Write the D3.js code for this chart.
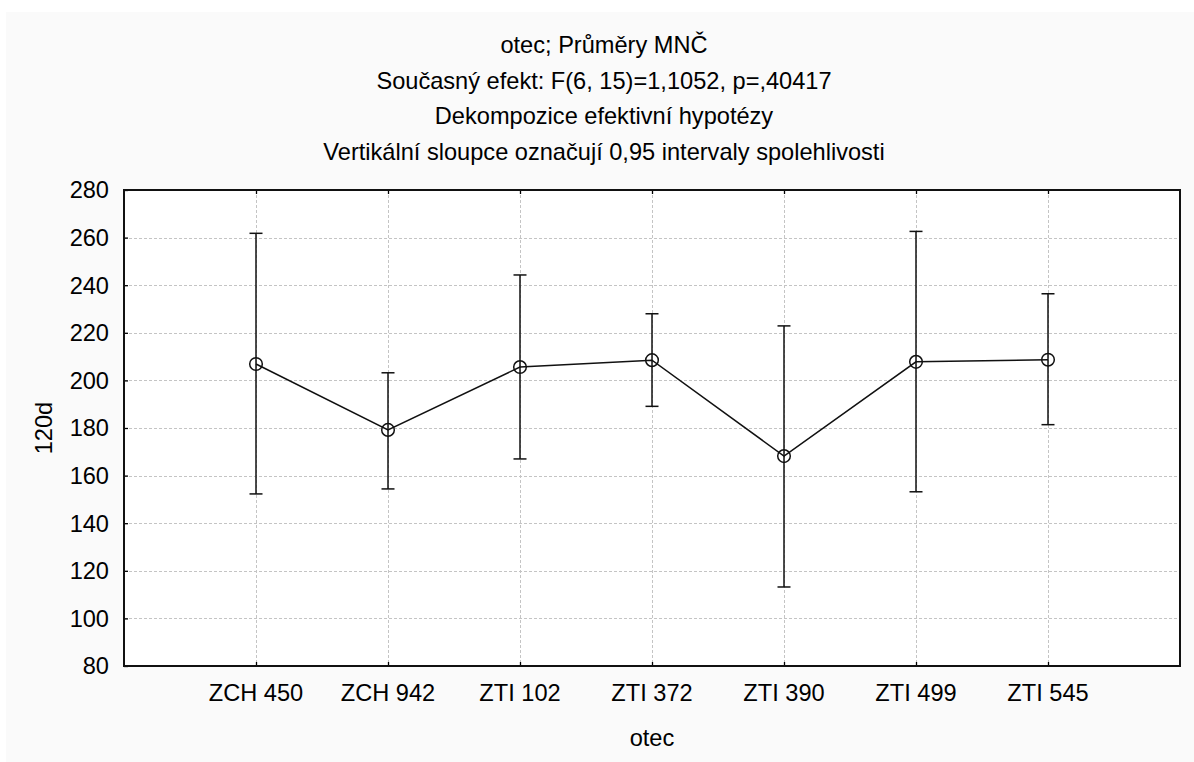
<!DOCTYPE html>
<html>
<head>
<meta charset="utf-8">
<script src="https://cdn.jsdelivr.net/npm/d3@7"></script>
<style>
  html, body { margin: 0; padding: 0; background: #ffffff; }
  svg { display: block; }
  text { font-family: "Liberation Sans", Arial, sans-serif; fill: #000; }
</style>
</head>
<body>
<svg id="chart" width="1194" height="762"></svg>
<script>
// Least-squares means of 120d by sire, with 0.95 confidence intervals
const categories = ["ZCH 450", "ZCH 942", "ZTI 102", "ZTI 372", "ZTI 390", "ZTI 499", "ZTI 545"];
const means = [206.9, 179.2, 205.6, 208.5, 168.2, 207.8, 208.7];
const upper = [261.8, 203.2, 244.3, 228.0, 222.9, 262.6, 236.4];
const lower = [152.3, 154.4, 167.0, 189.1, 113.2, 153.2, 181.4];
const yTicks = [80, 100, 120, 140, 160, 180, 200, 220, 240, 260, 280];
const titleLines = [
  "otec; Průměry MNČ",
  "Současný efekt: F(6, 15)=1,1052, p=,40417",
  "Dekompozice efektivní hypotézy",
  "Vertikální sloupce označují 0,95 intervaly spolehlivosti"
];
const xTitle = "otec";
const yTitle = "120d";

const svg = d3.select("#chart");
const W = 1194, H = 762;
const plot = { left: 124, right: 1180, top: 190, bottom: 666 };
const fontSize = 23.6;

// panel background
svg.append("rect").attr("x", 6).attr("y", 12).attr("width", W - 6).attr("height", H - 12)
  .attr("fill", "#fafafa");
svg.append("rect").attr("x", plot.left).attr("y", plot.top)
  .attr("width", plot.right - plot.left).attr("height", plot.bottom - plot.top)
  .attr("fill", "#ffffff");

const x = d3.scalePoint().domain(categories).range([plot.left, plot.right]).padding(1);
const y = d3.scaleLinear().domain([80, 280]).range([plot.bottom, plot.top]);

// dashed grid
const grid = svg.append("g").attr("stroke", "#c4c4c4").attr("stroke-width", 1)
  .attr("stroke-dasharray", "3,2").attr("fill", "none");
grid.selectAll("line.h").data(yTicks.filter(t => t > 80 && t < 280)).join("line")
  .attr("class", "h")
  .attr("x1", plot.left).attr("x2", plot.right)
  .attr("y1", d => Math.round(y(d)) + 0.5).attr("y2", d => Math.round(y(d)) + 0.5);
grid.selectAll("line.v").data(categories).join("line")
  .attr("class", "v")
  .attr("x1", d => Math.round(x(d)) + 0.5).attr("x2", d => Math.round(x(d)) + 0.5)
  .attr("y1", plot.top).attr("y2", plot.bottom);

// axes: ticks pointing inward, labels outside
const yAxis = svg.append("g").attr("transform", `translate(${plot.left},0)`)
  .call(d3.axisRight(y).tickValues(yTicks).tickSize(4).tickFormat(""));
yAxis.select(".domain").remove();
yAxis.selectAll("line").attr("stroke", "#000").attr("stroke-width", 1.3);

svg.append("g").selectAll("text").data(yTicks).join("text")
  .attr("x", 109).attr("y", d => y(d)).attr("dy", "0.36em")
  .attr("text-anchor", "end").attr("font-size", fontSize).text(d => d);

const xAxisB = svg.append("g").attr("transform", `translate(0,${plot.bottom})`)
  .call(d3.axisTop(x).tickSize(4).tickFormat(""));
xAxisB.select(".domain").remove();
xAxisB.selectAll("line").attr("stroke", "#000").attr("stroke-width", 1.3);

const xAxisT = svg.append("g").attr("transform", `translate(0,${plot.top})`)
  .call(d3.axisBottom(x).tickSize(4).tickFormat(""));
xAxisT.select(".domain").remove();
xAxisT.selectAll("line").attr("stroke", "#000").attr("stroke-width", 1.3);

svg.append("g").selectAll("text").data(categories).join("text")
  .attr("x", d => x(d)).attr("y", 701)
  .attr("text-anchor", "middle").attr("font-size", fontSize).text(d => d);

// frame
svg.append("rect").attr("x", plot.left).attr("y", plot.top)
  .attr("width", plot.right - plot.left).attr("height", plot.bottom - plot.top)
  .attr("fill", "none").attr("stroke", "#111").attr("stroke-width", 2);

// error bars
const eb = svg.append("g").attr("stroke", "#111").attr("stroke-width", 1.5).attr("fill", "none");
categories.forEach((c, i) => {
  const cx = x(c);
  eb.append("line").attr("x1", cx).attr("x2", cx).attr("y1", y(upper[i])).attr("y2", y(lower[i]));
  eb.append("line").attr("x1", cx - 6.5).attr("x2", cx + 6.5).attr("y1", y(upper[i])).attr("y2", y(upper[i]));
  eb.append("line").attr("x1", cx - 6.5).attr("x2", cx + 6.5).attr("y1", y(lower[i])).attr("y2", y(lower[i]));
});

// mean line
const line = d3.line().x((d, i) => x(categories[i])).y(d => y(d));
svg.append("path").datum(means).attr("d", line)
  .attr("fill", "none").attr("stroke", "#111").attr("stroke-width", 1.5);

// mean markers
svg.append("g").selectAll("circle").data(means).join("circle")
  .attr("cx", (d, i) => x(categories[i])).attr("cy", d => y(d)).attr("r", 6.3)
  .attr("fill", "none").attr("stroke", "#111").attr("stroke-width", 1.5);

// titles
svg.append("g").selectAll("text").data(titleLines).join("text")
  .attr("x", 604).attr("y", (d, i) => 53 + i * 35.6)
  .attr("text-anchor", "middle").attr("font-size", fontSize).text(d => d);

svg.append("text").attr("x", (plot.left + plot.right) / 2).attr("y", 746)
  .attr("text-anchor", "middle").attr("font-size", fontSize).text(xTitle);

svg.append("text")
  .attr("transform", `translate(52,${(plot.top + plot.bottom) / 2}) rotate(-90)`)
  .attr("text-anchor", "middle").attr("font-size", fontSize).text(yTitle);
</script>
</body>
</html>
